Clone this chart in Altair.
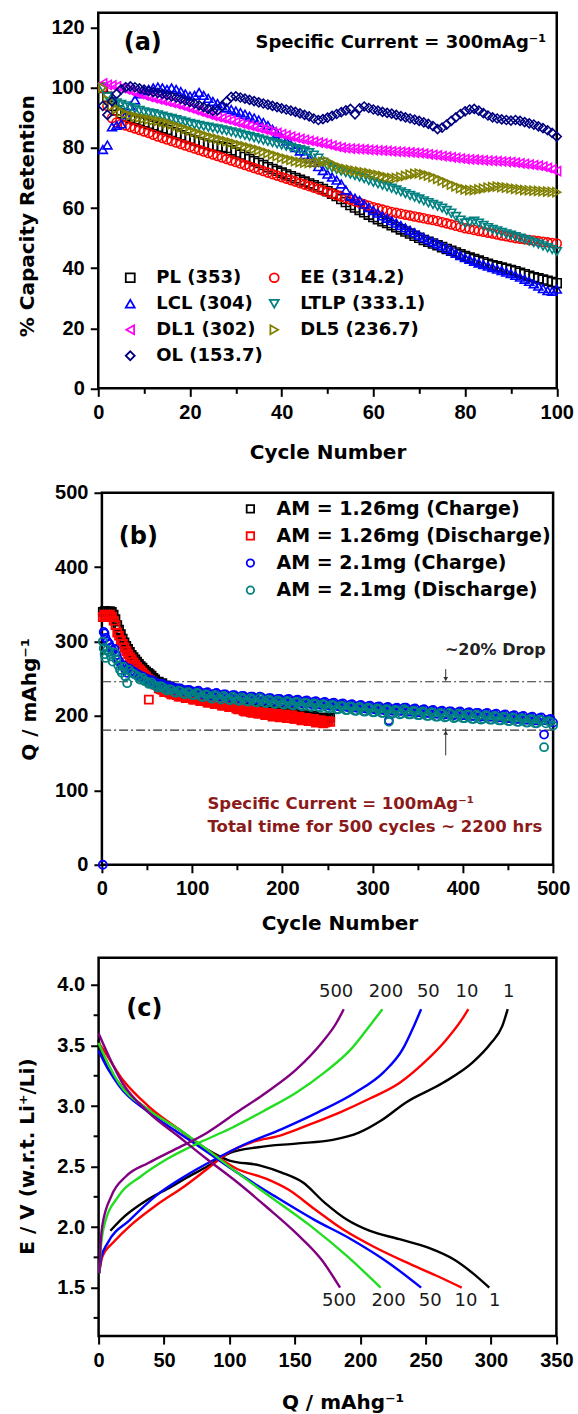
import altair as alt
import pandas as pd

# ---------------- Panel (a): capacity retention ----------------
a_cycles = list(range(1, 101))
a_names = ["PL (353)", "EE (314.2)", "LCL (304)", "LTLP (333.1)",
           "DL1 (302)", "DL5 (236.7)", "OL (153.7)"]
a_colors = ["#000000", "#FF0000", "#0000FF", "#008080", "#FF00FF", "#808000", "#000080"]
a_shapes = ["square", "circle", "triangle-up", "triangle-down",
            "triangle-left", "triangle-right", "diamond"]
# legend fills column by column: this order reads row by row as in the figure
a_legend_order = [0, 2, 4, 6, 1, 3, 5]

a_PL = [100, 97, 94, 92.5, 91.5, 90.5, 90, 89.5, 89, 88.5,
        88, 87.5, 87, 86.5, 86, 85.3, 84.8, 84.2, 83.6, 83,
        82.5, 82, 81.5, 81, 80.7, 80.5, 80.3, 80, 79.2, 78.5,
        77.8, 77, 76.3, 75.6, 75, 74.3, 73.6, 73, 72.4, 71.8,
        71.2, 70.6, 70, 69.4, 68.8, 68.2, 67.6, 67, 66.3, 65.6,
        64.8, 64, 63, 62, 61, 60.2, 59.4, 58.6, 57.8, 57,
        56.3, 55.6, 55, 54.3, 53.6, 52.9, 52.2, 51.5, 50.8, 50.1,
        49.4, 48.8, 48.2, 47.6, 47, 46.4, 45.8, 45.2, 44.6, 44,
        43.5, 43, 42.5, 42, 41.5, 41, 40.6, 40.2, 39.8, 39.4,
        39, 38.5, 38, 37.5, 37, 36.6, 36.2, 35.8, 35.4, 35]
a_EE = [100, 94, 90, 88.5, 88, 87.5, 87, 86.5, 86, 85.5,
        85, 84.4, 83.8, 83.3, 82.8, 82.3, 81.8, 81.3, 80.8, 80.3,
        79.8, 79.3, 78.8, 78.3, 77.8, 77.3, 76.8, 76.3, 75.8, 75.3,
        74.8, 74.3, 73.8, 73.3, 72.8, 72.3, 71.8, 71.3, 70.8, 70.3,
        69.8, 69.3, 68.8, 68.3, 67.8, 67.3, 66.8, 66.3, 65.8, 65.3,
        64.8, 64.3, 63.8, 63.3, 62.8, 62.3, 61.8, 61.3, 60.8, 60.3,
        59.9, 59.5, 59.1, 58.7, 58.4, 58.1, 57.8, 57.5, 57.2, 56.9,
        56.6, 56.3, 56, 55.7, 55.3, 54.9, 54.5, 54.1, 53.7, 53.3,
        53, 52.7, 52.4, 52.1, 51.8, 51.5, 51.2, 50.9, 50.6, 50.3,
        50, 49.8, 49.6, 49.4, 49.2, 49, 48.8, 48.6, 48.4, 48.2]
a_LCL = [79.5, 81, 87, 87.5, 88, 91, 94, 96, 98, 99,
         99.5, 100, 100.3, 100, 99.5, 100, 99.5, 98.8, 98, 97.3,
         97.5, 98.5, 97.5, 96.5, 95.5, 94.8, 94, 93.3, 92.8, 92.3,
         91.8, 91.2, 90.6, 90, 89.3, 88.5, 87.5, 86.2, 84.8, 83.5,
         82.3, 81.2, 80.1, 79, 77.8, 76.5, 75.2, 73.8, 72.5, 71.3,
         70.3, 69.3, 68, 66, 64, 63.3, 62.5, 61.3, 60.2, 59.2,
         58.3, 57.4, 56.6, 55.8, 55, 54.2, 53.4, 52.6, 51.8, 51,
         50.2, 49.5, 48.8, 48.1, 47.4, 46.6, 45.8, 45, 44.2, 43.5,
         42.9, 42.3, 41.7, 41.2, 40.7, 40.2, 39.7, 39.2, 38.7, 38.2,
         37.6, 37, 36.3, 35.6, 34.8, 34, 33.2, 32.5, 32.3, 33]
a_LTLP = [100, 97, 95.5, 95, 94.5, 94, 93.5, 93, 92.5, 92,
          91.7, 91.4, 91, 90.6, 90.2, 89.8, 89.4, 89, 88.6, 88.2,
          87.8, 87.5, 87.2, 86.9, 86.6, 86.3, 86, 85.7, 85.3, 85,
          84.6, 84.2, 83.8, 83.4, 83, 82.6, 82.2, 81.8, 81.4, 81,
          80.6, 80.2, 79.8, 79.4, 79, 78.4, 77.6, 76.6, 75.3, 74,
          73.4, 72.8, 72.3, 71.8, 71.3, 70.8, 70.3, 69.8, 69.2, 68.6,
          68.1, 67.6, 67.1, 66.6, 66, 65.4, 64.8, 64.2, 63.6, 63,
          62.4, 61.8, 61.2, 60.6, 60, 59.2, 58.3, 57.2, 56, 55,
          55.3, 55.6, 55, 54.2, 53.5, 52.9, 52.4, 51.9, 51.4, 51,
          50.5, 50, 49.5, 49, 48.5, 48, 47.4, 46.8, 46.2, 45.5]
a_DL1 = [101.5, 101, 100.8, 100.5, 100, 99.5, 99, 98.5, 98, 97.5,
         97, 96.6, 96.2, 95.8, 95.4, 95, 94.6, 94.2, 93.7, 93.2,
         92.7, 92.2, 91.7, 91.2, 90.7, 90.3, 89.9, 89.5, 89.1, 88.6,
         88.2, 87.8, 87.4, 87, 86.6, 86.2, 85.8, 85.4, 85, 84.6,
         84.2, 83.8, 83.4, 83, 82.7, 82.4, 82.1, 81.8, 81.5, 81.2,
         80.8, 80.4, 80.1, 79.9, 79.8, 79.7, 79.6, 79.5, 79.4, 79.3,
         79.2, 79.1, 79, 78.9, 78.8, 78.7, 78.6, 78.5, 78.4, 78.3,
         78.1, 77.9, 77.7, 77.5, 77.3, 77.1, 76.9, 76.7, 76.5, 76.3,
         76.2, 76.1, 76, 75.9, 75.8, 75.7, 75.6, 75.5, 75.4, 75.3,
         75.1, 74.9, 74.7, 74.5, 74.3, 74.1, 73.8, 73.4, 72.9, 72.3]
a_DL5 = [100, 96, 94, 93, 92, 91.3, 90.8, 90.4, 90.1, 89.8,
         89.5, 89.2, 88.9, 88.6, 88.3, 87.8, 87.3, 86.8, 86.3, 85.8,
         85.3, 84.8, 84.3, 83.8, 83.4, 83, 82.6, 82.2, 81.8, 81.3,
         80.9, 80.5, 80.1, 79.7, 79.3, 78.8, 78.3, 77.8, 77.3, 76.8,
         76.4, 76, 75.6, 75.3, 75.1, 75, 75, 75.1, 75.3, 75.5,
         74.8, 74, 73.4, 73, 72.7, 72.4, 72.1, 71.9, 71.6, 71.3,
         71, 70.6, 70.2, 70, 70, 70.3, 70.7, 71.1, 71.4, 71.5,
         71.2, 70.8, 70.3, 69.7, 69.1, 68.5, 67.8, 67.2, 66.6, 66.2,
         66, 66, 66.2, 66.5, 66.8, 67, 67.1, 67, 66.8, 66.6,
         66.4, 66.2, 66, 65.9, 65.8, 65.7, 65.6, 65.5, 65.4, 65.3]
a_OL = [94, 91, 95.5, 98, 99.5, 100.2, 100.5, 100.2, 99.8, 99.4,
        99, 98.6, 98.3, 98, 97.6, 97.2, 96.8, 96.3, 95.8, 95.3,
        94.8, 94.2, 93.6, 93, 92.3, 92.5, 94, 95.5, 97, 97.2,
        96.8, 96.4, 96, 95.6, 95.2, 94.8, 94.4, 94, 93.6, 93.2,
        92.8, 92.4, 92, 91.5, 91, 90.5, 89.8, 89.3, 89.6, 90.1,
        90.7, 91.3, 91.9, 92.5, 93, 91.2, 93.2, 93.8, 93.3, 92.8,
        92.4, 92, 91.7, 91.4, 91, 90.6, 90.2, 89.8, 89.4, 89,
        88.5, 88, 87.3, 86.3, 86.8, 87.8, 89, 90.2, 91.3, 92.2,
        92.8, 93, 92.4, 91.6, 90.8, 90.2, 89.8, 89.5, 89.3, 89.1,
        89.3, 89, 88.6, 88.2, 87.8, 87.2, 86.6, 85.9, 85, 83.8]
a_series = [a_PL, a_EE, a_LCL, a_LTLP, a_DL1, a_DL5, a_OL]

# ---------------- Panel (b): long cycling ----------------
b_names = ["AM = 1.26mg (Charge)", "AM = 1.26mg (Discharge)",
           "AM = 2.1mg (Charge)", "AM = 2.1mg (Discharge)"]
b_colors = ["#000000", "#FF0000", "#0000FF", "#008080"]
b_shapes = ["square", "square", "circle", "circle"]

b_cyc_126 = list(range(1, 60, 2)) + [52] + list(range(63, 252, 4)) + [253] + list(range(65, 250, 4))
b_black = [340, 341, 341, 340, 341, 340, 336, 330, 322, 316,
           310, 304, 299, 294, 290, 286, 282, 279, 276, 273,
           270, 267, 265, 262, 260, 258, 256, 254, 251, 249,
           257,
           246, 244, 241, 239, 237, 235, 233, 233, 231, 230,
           229, 228, 226, 226, 224, 224, 222, 222, 220, 220,
           218, 218, 215, 215, 212, 213, 209, 211, 208, 209,
           206, 208, 205, 207, 204, 206, 203, 205, 201, 203,
           200, 201, 198, 200, 197, 198, 196, 197,
           198,
           239, 236, 236, 233, 233, 230, 231, 228, 229, 226,
           227, 224, 225, 222, 223, 220, 221, 218, 219, 216,
           217, 214, 214, 211, 212, 209, 210, 207, 208, 205,
           206, 203, 205, 202, 204, 201, 203, 200, 201, 198,
           200, 197, 198, 195, 197, 194, 195]
b_red = [333, 336, 335, 334, 336, 333, 328, 322, 312, 308,
         302, 297, 292, 287, 283, 279, 276, 272, 269, 266,
         263, 261, 258, 255, 253, 250, 248, 246, 244, 242,
         222,
         237, 235, 232, 231, 229, 228, 226, 227, 224, 225,
         222, 223, 220, 221, 218, 219, 216, 217, 214, 215,
         212, 213, 209, 210, 206, 208, 204, 206, 203, 205,
         201, 204, 200, 203, 199, 202, 198, 201, 196, 199,
         195, 197, 193, 196, 192, 194, 191, 193,
         192,
         236, 232, 233, 229, 230, 226, 228, 224, 226, 222,
         224, 220, 222, 218, 220, 216, 218, 214, 216, 212,
         214, 210, 211, 207, 209, 205, 207, 203, 205, 201,
         203, 199, 202, 198, 201, 197, 200, 196, 198, 194,
         197, 193, 195, 191, 194, 190, 192]

b_cyc_21 = [1, 2, 3, 4, 6, 8, 10, 12, 14, 16, 18, 20, 22, 24, 26, 28, 30, 33, 36, 40] \
    + list(range(45, 501, 5)) + [318] + list(range(42, 498, 5))
b_blue = [0, 313, 311, 305, 300, 297, 292, 288, 290, 282,
          276, 272, 268, 268, 262, 258, 264, 261, 259, 256,
          253, 250, 248, 245, 243, 241, 240, 238, 237, 235, 235, 233,
          233, 231, 231, 229, 230, 228, 229, 226, 228, 225, 227, 224, 226, 223, 226, 222, 224, 221, 223, 220,
          222, 219, 221, 218, 220, 217, 219, 216, 218, 215, 217, 214, 216, 213, 215, 212, 214, 211, 213, 210,
          212, 209, 211, 208, 210, 207, 211, 206, 209, 205, 208, 204, 207, 203, 206, 202, 206, 201, 205, 201,
          204, 200, 204, 199, 203, 199, 202, 198, 201, 197, 200, 196, 199, 195, 198, 194, 197, 175, 195, 191,
          194,
          253, 251, 247, 246, 242, 243, 238, 239, 235, 237, 233, 235,
          232, 234, 229, 232, 227, 231, 226, 229, 225, 228, 224, 227, 223, 226, 222, 225, 221, 224, 220, 223,
          219, 223, 218, 222, 217, 221, 216, 220, 215, 219, 214, 218, 213, 217, 212, 216, 211, 215, 210, 214,
          209, 213, 208, 212, 207, 211, 207, 211, 206, 210, 205, 209, 204, 208, 203, 207, 203, 206, 202, 206,
          201, 205, 200, 204, 200, 204, 199, 203, 198, 202, 197, 201, 196, 200, 195, 199, 194, 198, 194, 196]
b_teal = [300, 291, 283, 278, 289, 286, 280, 273, 285, 276,
          268, 262, 258, 266, 253, 244, 262, 258, 256, 253,
          251, 246, 245, 240, 240, 236, 236, 232, 234, 230, 232, 228,
          231, 226, 229, 225, 228, 224, 227, 222, 226, 221, 225, 220, 224, 219, 224, 218, 222, 217, 221, 216,
          220, 215, 219, 214, 218, 213, 217, 212, 216, 211, 215, 209, 214, 208, 213, 207, 212, 206, 211, 205,
          210, 204, 209, 203, 208, 202, 209, 202, 207, 201, 206, 200, 205, 199, 204, 198, 204, 197, 203, 197,
          202, 196, 202, 195, 201, 195, 200, 194, 199, 193, 198, 192, 197, 191, 196, 190, 195, 158, 193, 187,
          192,
          249, 247, 243, 242, 238, 239, 234, 235, 231, 233, 229, 231,
          228, 230, 225, 228, 223, 227, 222, 225, 221, 224, 220, 223, 219, 222, 218, 221, 217, 220, 216, 219,
          215, 219, 214, 218, 213, 217, 212, 216, 211, 215, 210, 214, 209, 213, 208, 212, 207, 211, 206, 210,
          205, 209, 204, 208, 203, 207, 203, 207, 202, 206, 201, 205, 200, 204, 199, 203, 199, 202, 198, 202,
          197, 201, 196, 200, 196, 200, 195, 199, 194, 198, 193, 197, 192, 196, 191, 195, 190, 194, 190, 192]
b_drop_levels = [246, 181]

# ---------------- Panel (c): voltage profiles (volts) ----------------
c_cycles = ["1", "10", "50", "200", "500"]
c_colors = ["#000000", "#FF0000", "#0000FF", "#22DD22", "#800080"]

c_ch_Q = {
    "1": [9, 20, 38, 55, 66, 83, 100, 122, 151, 179, 199, 216, 235, 263, 286, 300, 308.6, 312.8],
    "10": [0.5, 2, 5, 10, 24, 44, 66, 83, 100, 117, 140, 162, 185, 207, 230, 249, 266, 278, 282.6],
    "50": [0.5, 2, 7, 24, 44, 66, 89, 111, 140, 168, 196, 218, 232.5, 241, 246.6],
    "200": [0.5, 1.5, 4.2, 15.5, 32.4, 52, 77.5, 100, 128, 151, 173, 193, 207, 217],
    "500": [0.5, 1.2, 2.8, 9.9, 21, 38, 58, 83, 106, 128, 151, 170.5, 182, 187.4],
}
c_ch_V = {
    "1": [1.97, 2.09, 2.23, 2.33, 2.40, 2.50, 2.61, 2.66, 2.69, 2.72, 2.78, 2.88, 3.03, 3.19, 3.36, 3.52, 3.66, 3.80],
    "10": [1.62, 1.72, 1.80, 1.86, 2.01, 2.18, 2.34, 2.48, 2.62, 2.70, 2.76, 2.85, 2.95, 3.06, 3.19, 3.36, 3.55, 3.72, 3.80],
    "50": [1.62, 1.75, 1.87, 2.06, 2.26, 2.42, 2.56, 2.68, 2.81, 2.95, 3.11, 3.28, 3.47, 3.66, 3.80],
    "200": [1.62, 1.80, 2.01, 2.26, 2.42, 2.56, 2.70, 2.81, 2.97, 3.11, 3.28, 3.47, 3.66, 3.80],
    "500": [1.62, 1.80, 2.01, 2.26, 2.42, 2.53, 2.64, 2.78, 2.95, 3.11, 3.30, 3.52, 3.69, 3.80],
}
c_dis_Q = {
    "1": [0, 1.4, 15.5, 38, 61, 83, 100, 123, 140, 156, 173, 190, 207, 230, 252, 272, 286, 298.7],
    "10": [0, 1.4, 18.3, 38, 61, 83, 106, 128, 145, 165, 187, 210, 235, 258, 277.6],
    "50": [0, 0.8, 15.5, 38, 61, 83, 106, 134, 165, 193, 221, 246.6],
    "200": [0, 0.8, 15.5, 38, 61, 83, 106, 134, 162, 190, 215.6],
    "500": [0, 0.8, 18.3, 38, 61, 83, 106, 128, 151, 170.5, 184.6],
}
c_dis_V = {
    "1": [3.55, 3.47, 3.19, 2.97, 2.81, 2.64, 2.55, 2.51, 2.45, 2.37, 2.20, 2.06, 1.97, 1.90, 1.83, 1.73, 1.62, 1.50],
    "10": [3.52, 3.50, 3.22, 3.00, 2.81, 2.64, 2.48, 2.40, 2.31, 2.15, 1.98, 1.84, 1.71, 1.60, 1.50],
    "50": [3.46, 3.44, 3.17, 2.95, 2.78, 2.62, 2.45, 2.26, 2.06, 1.90, 1.71, 1.50],
    "200": [3.52, 3.50, 3.19, 2.97, 2.81, 2.64, 2.45, 2.23, 2.01, 1.76, 1.50],
    "500": [3.60, 3.58, 3.19, 2.95, 2.75, 2.56, 2.37, 2.17, 1.95, 1.73, 1.50],
}
c_top_Q = [181.6, 219.7, 252.1, 281.7, 313.5]
c_top_lbl = ["500", "200", "50", "10", "1"]
c_top_V = 3.945
c_bot_Q = [183.9, 221.7, 253.5, 280.8, 302.8]
c_bot_lbl = ["500", "200", "50", "10", "1"]
c_bot_V = 1.39
c_major_V = [1.5, 2.0, 2.5, 3.0, 3.5, 4.0]
c_minor_V = [1.25, 1.75, 2.25, 2.75, 3.25, 3.75]

# ---------------- styling ----------------
TFONT = "DejaVu Sans"
NFONT = "Liberation Sans"
W_A, H_A = 458.5, 375.6
W_B, H_B = 451.2, 372.0
W_C, H_C = 457.8, 378.3


def mk_axis(values, major, title, label=None, **kw):
    lab = label if label else "datum.label"
    args = dict(values=values, title=title,
                labelExpr="(" + major + ") ? " + lab + " : ''",
                tickSize={"condition": {"test": "!(" + major + ")", "value": 5}, "value": 8},
                labelOverlap=False, labelFlush=False, labelBound=False)
    args.update(kw)
    return alt.Axis(**args)


# ---- Panel (a)
rows = []
for name, vals in zip(a_names, a_series):
    for c, v in zip(a_cycles, vals):
        rows.append({"cycle": c, "ret": v, "series": name})
df_a = pd.DataFrame(rows)

leg_a = alt.Legend(title=None, orient="none", legendX=23, legendY=256, columns=2,
                   labelFont=TFONT, labelFontWeight="bold", labelFontSize=18, labelColor="black",
                   symbolSize=80, symbolStrokeWidth=1.8, rowPadding=8, columnPadding=2,
                   labelOffset=17, padding=0, labelLimit=0)
xa = alt.X("cycle:Q", scale=alt.Scale(domain=[0, 100], nice=False, zero=False),
           axis=mk_axis(list(range(0, 101, 10)), "datum.value % 20 == 0", "Cycle Number",
                        titleY=64.4, titleBaseline="middle"))
ya = alt.Y("ret:Q", scale=alt.Scale(domain=[0, 125], nice=False),
           axis=mk_axis(list(range(0, 121, 10)), "datum.value % 20 == 0", "% Capacity Retention",
                        titleX=-71.2, titleY=203, titleBaseline="middle"))
a_dom = [a_names[i] for i in a_legend_order]
pts_a = alt.Chart(df_a).mark_point(filled=False, size=80, strokeWidth=1.6, opacity=1).encode(
    x=xa, y=ya,
    color=alt.Color("series:N", scale=alt.Scale(domain=a_dom, range=[a_colors[i] for i in a_legend_order]),
                    legend=leg_a),
    shape=alt.Shape("series:N", scale=alt.Scale(domain=a_dom, range=[a_shapes[i] for i in a_legend_order]),
                    legend=leg_a),
)
lab_a = alt.Chart(pd.DataFrame({"cycle": [9.7], "ret": [114.9], "t": ["(a)"]})).mark_text(
    font=TFONT, fontWeight="bold", fontSize=24, color="black", baseline="middle", align="center"
).encode(x="cycle:Q", y="ret:Q", text="t:N")
cur_a = alt.Chart(pd.DataFrame({"cycle": [97.7], "ret": [115.0], "t": ["Specific Current = 300mAg\u207b\u00b9"]})).mark_text(
    font=TFONT, fontWeight="bold", fontSize=18, color="black", baseline="middle", align="right"
).encode(x="cycle:Q", y="ret:Q", text="t:N")
panel_a = alt.layer(pts_a, lab_a, cur_a).properties(width=W_A, height=H_A)

# ---- Panel (b)
rows = []
for name, cyc, vals in zip(b_names, [b_cyc_126, b_cyc_126, b_cyc_21, b_cyc_21],
                           [b_black, b_red, b_blue, b_teal]):
    for c, v in zip(cyc, vals):
        rows.append({"cycle": c, "q": v, "series": name})
df_b = pd.DataFrame(rows)

leg_b = alt.Legend(title=None, orient="none", legendX=139, legendY=6.6,
                   labelFont=TFONT, labelFontWeight="bold", labelFontSize=19, labelColor="black",
                   symbolSize=55, symbolStrokeWidth=1.8, rowPadding=7.1, labelOffset=16.6, padding=0,
                   labelLimit=0)
xb = alt.X("cycle:Q", scale=alt.Scale(domain=[0, 500], nice=False, zero=False),
           axis=mk_axis(list(range(0, 501, 50)), "datum.value % 100 == 0", "Cycle Number",
                        titleY=58.3, titleX=237.5, titleBaseline="middle"))
yb = alt.Y("q:Q", scale=alt.Scale(domain=[0, 500], nice=False),
           axis=mk_axis(list(range(0, 501, 25)), "datum.value % 50 == 0", "Q / mAhg\u207b\u00b9",
                        titleX=-72.9, titleY=206.3, titleBaseline="middle"))
pts_b = alt.Chart(df_b).mark_point(filled=False, size=64, strokeWidth=1.8, opacity=1).encode(
    x=xb, y=yb,
    color=alt.Color("series:N", scale=alt.Scale(domain=b_names, range=b_colors), legend=leg_b),
    shape=alt.Shape("series:N", scale=alt.Scale(domain=b_names, range=b_shapes), legend=leg_b),
)
drop_b = alt.Chart(pd.DataFrame({"q": b_drop_levels})).mark_rule(
    color="#333333", strokeWidth=1.2, strokeDash=[9, 3, 2, 3]).encode(y="q:Q")
arr_b = alt.Chart(pd.DataFrame({"cycle": [381, 381], "q": [263, 147], "q2": [249, 184]})).mark_rule(
    color="#333333", strokeWidth=1).encode(x="cycle:Q", y="q:Q", y2="q2:Q")
head_b = alt.Chart(pd.DataFrame({"cycle": [381, 381], "q": [249.5, 177.5],
                                 "s": ["triangle-down", "triangle-up"]})).mark_point(
    filled=True, size=22, color="#333333", opacity=1).encode(
    x="cycle:Q", y="q:Q", shape=alt.Shape("s:N", scale=None, legend=None))
lab_b = alt.Chart(pd.DataFrame({"cycle": [40.4], "q": [440], "t": ["(b)"]})).mark_text(
    font=TFONT, fontWeight="bold", fontSize=24, color="black", baseline="middle", align="center"
).encode(x="cycle:Q", y="q:Q", text="t:N")
drop_txt = alt.Chart(pd.DataFrame({"cycle": [436], "q": [288], "t": ["~20% Drop"]})).mark_text(
    font=TFONT, fontWeight="bold", fontSize=16, color="#222222", baseline="middle", align="center"
).encode(x="cycle:Q", y="q:Q", text="t:N")
note_b = alt.Chart(pd.DataFrame({"cycle": [117, 117], "q": [82, 50.9],
                                 "t": ["Specific Current = 100mAg\u207b\u00b9",
                                       "Total time for 500 cycles ~ 2200 hrs"]})).mark_text(
    font=TFONT, fontWeight="bold", fontSize=16.5, color="#8B1A1A", baseline="middle", align="left"
).encode(x="cycle:Q", y="q:Q", text="t:N")
panel_b = alt.layer(drop_b, pts_b, arr_b, head_b, lab_b, drop_txt, note_b).properties(width=W_B, height=H_B)

# ---- Panel (c)
rows = []
for cy in c_cycles:
    for q, v in zip(c_ch_Q[cy], c_ch_V[cy]):
        rows.append({"Q": q, "volt": v, "cyc": cy, "curve": cy + "c"})
    for q, v in zip(c_dis_Q[cy], c_dis_V[cy]):
        rows.append({"Q": q, "volt": v, "cyc": cy, "curve": cy + "d"})
df_c = pd.DataFrame(rows)

xc = alt.X("Q:Q", scale=alt.Scale(domain=[0, 350], nice=False, zero=False),
           axis=mk_axis(list(range(0, 351, 25)), "datum.value % 50 == 0", "Q / mAhg\u207b\u00b9",
                        titleY=66.7, titleX=244, titleBaseline="middle"))
yc = alt.Y("volt:Q", scale=alt.Scale(domain=[1.1, 4.225], nice=False, zero=False),
           axis=alt.Axis(values=c_major_V, format=".1f", tickSize=8,
                         title="E / V (w.r.t. Li\u207a/Li)", labelOverlap=False,
                         labelFlush=False, labelBound=False,
                         titleX=-71, titleY=198.3, titleBaseline="middle"))
lines_c = alt.Chart(df_c).mark_line(interpolate="monotone", strokeWidth=2.4).encode(
    x=xc, y=yc,
    color=alt.Color("cyc:N", scale=alt.Scale(domain=c_cycles, range=c_colors), legend=None),
    detail="curve:N",
)
minor_c = alt.Chart(pd.DataFrame({"volt": c_minor_V})).mark_rule(color="black", strokeWidth=2).encode(
    y="volt:Q", x=alt.value(-5), x2=alt.value(0))
lbl_df = pd.DataFrame({"Q": c_top_Q + c_bot_Q,
                       "volt": [c_top_V] * 5 + [c_bot_V] * 5,
                       "t": c_top_lbl + c_bot_lbl})
lbl_c = alt.Chart(lbl_df).mark_text(font=TFONT, fontSize=18, color="#1a1a1a",
                                    baseline="middle", align="center").encode(
    x="Q:Q", y="volt:Q", text="t:N")
lab_c = alt.Chart(pd.DataFrame({"Q": [35.0], "volt": [3.80], "t": ["(c)"]})).mark_text(
    font=TFONT, fontWeight="bold", fontSize=24, color="black", baseline="middle", align="center"
).encode(x="Q:Q", y="volt:Q", text="t:N")
panel_c = alt.layer(lines_c, minor_c, lbl_c, lab_c).properties(width=W_C, height=H_C)


def spacer(h):
    return alt.Chart(pd.DataFrame({"s": [0]})).mark_point(opacity=0).encode(
        x=alt.X("s:Q", axis=None), y=alt.Y("s:Q", axis=None)
    ).properties(width=10, height=h, view=alt.ViewBackground(strokeOpacity=0))


chart = alt.vconcat(panel_a, spacer(103.1), panel_b, spacer(92.3), panel_c,
                    spacing=0, bounds="flush", center=True).resolve_scale(
    color="independent", shape="independent"
).properties(
    padding={"left": 15, "top": 10.75, "right": 0, "bottom": 0},
    background="white",
).configure_view(stroke="black", strokeWidth=2.5).configure_axis(
    labelFont=NFONT, labelFontWeight="bold", labelFontSize=20, labelColor="black",
    labelPadding=6, titleFont=TFONT, titleFontWeight="bold", titleFontSize=20,
    titleColor="black", tickColor="black", tickWidth=2, domain=False, grid=False,
)

chart.save("out.html", embed_options={"renderer": "svg", "actions": False})
